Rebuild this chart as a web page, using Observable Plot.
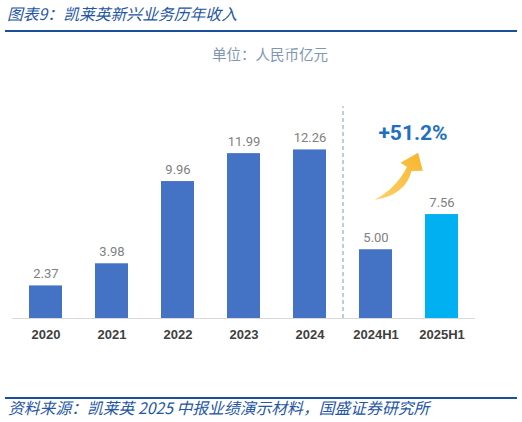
<!DOCTYPE html>
<html>
<head>
<meta charset="utf-8">
<script src="https://cdn.jsdelivr.net/npm/d3@7"></script>
<script src="https://cdn.jsdelivr.net/npm/@observablehq/plot@0.6"></script>
<style>
  body { margin: 0; background: white; }
  #page { position: relative; width: 522px; height: 422px; overflow: hidden; }
  .note { position: absolute; font-family: "Noto Sans CJK SC", sans-serif; font-style: italic; color: #2556a5; white-space: nowrap; }
  .bar-line { position: absolute; left: 5px; width: 512px; height: 2px; background: #1b4f9c; }
  #chart { position: absolute; left: 0; top: 33px; }
  #unit { position: absolute; left: 212px; top: 43px; font-family: "Noto Sans CJK SC", sans-serif; font-size: 14.5px; color: #8196b5; white-space: nowrap; }
</style>
</head>
<body>
<div id="page">
  <div class="note" style="left:7px; top:3px; font-size:15.8px; line-height:21px;">图表9：凯莱英新兴业务历年收入</div>
  <div class="bar-line" style="top:30px;"></div>
  <div id="chart"></div>
  <div id="unit">单位：人民币亿元</div>
  <div class="bar-line" style="top:397px;"></div>
  <div class="note" style="left:8px; top:398px; font-size:15.8px; line-height:20px;">资料来源：凯莱英 2025 中报业绩演示材料，国盛证券研究所</div>
</div>
<script>
// 凯莱英新兴业务收入（亿元）
const periods = ["2020", "2021", "2022", "2023", "2024", "2024H1", "2025H1"];
const revenue = [2.37, 3.98, 9.96, 11.99, 12.26, 5.00, 7.56];
const highlighted = "2025H1";
const compareFrom = "2024H1";

// annotation positions, in data units
const dividerTop = 15.4;
const growthLabelY = 13.45;
const arrowTailY = 8.58;

const table = periods.map((p, i) => ({period: p, value: revenue[i]}));
const growth = (revenue[periods.indexOf(highlighted)] / revenue[periods.indexOf(compareFrom)] - 1) * 100;

// curved tapered arrow, offsets in px from its tail
function growthArrow(index, scales) {
  const {x, y} = scales;
  const half = x.bandwidth ? x.bandwidth() / 2 : 0;
  const tx = x(compareFrom) + half - 1;
  const ty = y(arrowTailY);
  const g = d3.create("svg:g").attr("transform", `translate(${tx},${ty})`);
  const grad = g.append("defs").append("linearGradient")
    .attr("id", "arrowFill").attr("x1", "0").attr("y1", "1").attr("x2", "1").attr("y2", "0");
  grad.append("stop").attr("offset", "0%").attr("stop-color", "#fdd26a");
  grad.append("stop").attr("offset", "100%").attr("stop-color", "#f8b42c");
  g.append("path")
    .attr("fill", "url(#arrowFill)")
    .attr("d", "M0,0 Q31,-5 37,-29 L48.3,-29.3 L43.6,-47.3 L26,-37.3 L32.5,-33 Q22,-12 0,0 Z");
  return g.node();
}

const chart = Plot.plot({
  width: 522,
  height: 357,
  marginLeft: 12,
  marginRight: 47,
  marginTop: 92.5,
  marginBottom: 72,
  style: {fontFamily: "'Liberation Sans', Arial, sans-serif", background: "white", overflow: "visible"},
  x: {domain: periods, paddingInner: 0.5, paddingOuter: 0.25, label: null, axis: null},
  y: {domain: [0, 14], axis: null},
  color: {domain: ["regular", "highlight"], range: ["#4472c4", "#00b0f0"]},
  marks: [
    Plot.ruleY([0], {stroke: "#d9d9d9", strokeWidth: 1.2}),
    Plot.barY(table, {
      x: "period",
      y: "value",
      fill: (d) => (d.period === highlighted ? "highlight" : "regular")
    }),
    Plot.text(table, {
      x: "period",
      y: "value",
      text: (d) => d.value.toFixed(2),
      dy: -12,
      fill: "#808080",
      fontSize: 13,
      fontFamily: "Roboto"
    }),
    Plot.axisX({
      tickSize: 0,
      tickPadding: 11,
      fontSize: 13,
      fontWeight: "bold",
      fill: "#404040"
    }),
    Plot.ruleX([compareFrom], {
      dx: -33,
      y1: 0,
      y2: dividerTop,
      stroke: "#a9bbe0",
      strokeWidth: 1.5,
      strokeDasharray: "4,3"
    }),
    Plot.text([growth], {
      x: () => highlighted,
      y: () => growthLabelY,
      text: (d) => `+${d.toFixed(1)}%`,
      dx: -29,
      fill: "#1f6fc2",
      fontSize: 21,
      fontWeight: "bold",
      fontFamily: "Roboto"
    }),
    growthArrow
  ]
});

document.getElementById("chart").append(chart);
</script>
</body>
</html>
